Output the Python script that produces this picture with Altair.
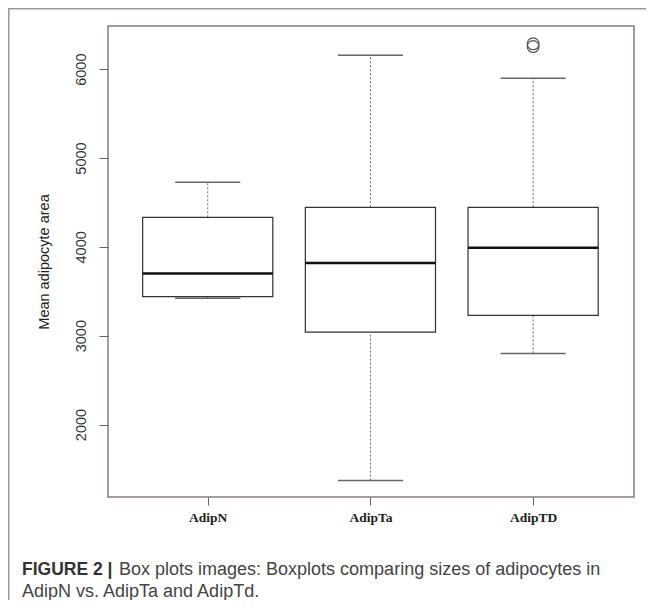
import json
import altair as alt
import pandas as pd

# ---- data ----
categories = ["AdipN", "AdipTa", "AdipTD"]
lower_whisker = [3420, 1369, 2800]
q1 = [3440, 3040, 3228]
median = [3701, 3817, 3991]
q3 = [4332, 4445, 4445]
upper_whisker = [4727, 6158, 5899]
outlier_group = ["AdipTD", "AdipTD"]
outlier_values = [6255, 6285]
y_ticks = [2000, 3000, 4000, 5000, 6000]

caption_bold = "FIGURE 2 |"
caption_rest = "Box plots images: Boxplots comparing sizes of adipocytes in"
caption_line2 = "AdipN vs. AdipTa and AdipTd."
y_title = "Mean adipocyte area"

# ---- tables ----
pos = [i + 1 for i in range(len(categories))]
df = pd.DataFrame({
    "group": categories,
    "pos": pos,
    "box_l": [p - 0.4 for p in pos],
    "box_r": [p + 0.4 for p in pos],
    "cap_l": [p - 0.2 for p in pos],
    "cap_r": [p + 0.2 for p in pos],
    "lo": lower_whisker,
    "q1": q1,
    "med": median,
    "q3": q3,
    "hi": upper_whisker,
})
out_df = pd.DataFrame({
    "group": outlier_group,
    "value": outlier_values,
    "pos": [categories.index(g) + 1 for g in outlier_group],
})
one = pd.DataFrame({"k": [0]})

W, H = 526, 471
PAD_R = 12
PAD_B = 103
xscale = alt.Scale(domain=[0.387, 3.62], nice=False, zero=False)
yscale = alt.Scale(domain=[1184, 6486], nice=False, zero=False)

label_expr = json.dumps(categories) + "[datum.value - 1]"
xaxis = alt.Axis(values=pos, labelExpr=label_expr, title=None, grid=False,
                 domain=False, ticks=True, tickSize=8, tickColor="#666",
                 labelFont="Liberation Serif", labelFontSize=13.5,
                 labelFontWeight="bold", labelColor="#222", labelPadding=5)
yaxis = alt.Axis(values=y_ticks, format="d", title=y_title, grid=False,
                 domain=False, tickSize=9, tickColor="#666", labelAngle=270,
                 labelAlign="center", labelBaseline="alphabetic",
                 labelPadding=14, labelFont="Liberation Sans",
                 labelFontSize=14.5, labelColor="#333",
                 titleFont="Liberation Sans", titleFontSize=14.5,
                 titleFontWeight="normal", titleColor="#222",
                 titleAngle=270, titleX=-60, titleY=H / 2,
                 titleAlign="center", titleBaseline="alphabetic")

base = alt.Chart(df)
X = alt.X("pos:Q", scale=xscale, axis=xaxis)

whisk_hi = base.mark_rule(color="#666", strokeWidth=1, strokeDash=[2, 2]).encode(
    x=X, y=alt.Y("q3:Q", scale=yscale, axis=yaxis), y2="hi:Q")
whisk_lo = base.mark_rule(color="#666", strokeWidth=1, strokeDash=[2, 2]).encode(
    x="pos:Q", y="lo:Q", y2="q1:Q")
cap_hi = base.mark_rule(color="#666", strokeWidth=1.5).encode(
    x="cap_l:Q", x2="cap_r:Q", y="hi:Q")
cap_lo = base.mark_rule(color="#666", strokeWidth=1.5).encode(
    x="cap_l:Q", x2="cap_r:Q", y="lo:Q")
boxes = base.mark_rect(fill="white", stroke="#333", strokeWidth=1.2).encode(
    x="box_l:Q", x2="box_r:Q", y="q1:Q", y2="q3:Q")
meds = base.mark_rule(color="#111", strokeWidth=2.5).encode(
    x="box_l:Q", x2="box_r:Q", y="med:Q")
outs = alt.Chart(out_df).mark_point(shape="circle", filled=False, size=140,
                                    color="#555", strokeWidth=1.2, opacity=1).encode(
    x="pos:Q", y="value:Q")

frame_top = alt.Chart(one).mark_rule(color="#999", strokeWidth=1.5).encode(
    x=alt.value(-100), x2=alt.value(W + PAD_R), y=alt.value(-17.25))
frame_left = alt.Chart(one).mark_rule(color="#999", strokeWidth=1.5).encode(
    x=alt.value(-99.25), y=alt.value(-18), y2=alt.value(H + PAD_B))

cap1 = alt.Chart(one).mark_text(align="left", baseline="alphabetic",
                                font="Liberation Sans", fontSize=17.5,
                                fontWeight="bold", color="#333").encode(
    x=alt.value(-86), y=alt.value(549), text=alt.value(caption_bold))
cap1b = alt.Chart(one).mark_text(align="left", baseline="alphabetic",
                                 font="Liberation Sans", fontSize=18,
                                 color="#444").encode(
    x=alt.value(11), y=alt.value(549), text=alt.value(caption_rest))
cap2 = alt.Chart(one).mark_text(align="left", baseline="alphabetic",
                                font="Liberation Sans", fontSize=18,
                                color="#444").encode(
    x=alt.value(-86), y=alt.value(571), text=alt.value(caption_line2))

chart = alt.layer(whisk_hi, whisk_lo, cap_hi, cap_lo, boxes, meds, outs,
                  frame_top, frame_left, cap1, cap1b, cap2).properties(
    width=W, height=H,
    autosize=alt.AutoSizeParams(type="none"),
    padding={"left": 100, "top": 18, "right": PAD_R, "bottom": PAD_B},
    background="white",
).configure_view(stroke="#857a88", strokeWidth=1.5)

chart.save("out.html", embed_options={"renderer": "svg", "actions": False})
